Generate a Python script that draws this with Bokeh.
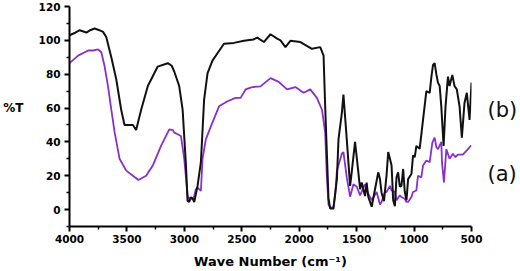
from bokeh.plotting import figure
from bokeh.models import Range1d, FixedTicker, LinearAxis
from bokeh.embed import file_html
from bokeh.resources import INLINE

# ---- data ----
b_wave = [4000, 3950, 3911, 3853, 3820, 3781, 3740, 3708, 3680, 3636, 3593, 3550, 3521, 3478, 3448, 3420,
          3376, 3318, 3232, 3145, 3110, 3088, 3045, 3015, 2986, 2972, 2958, 2943, 2928, 2914, 2885, 2856,
          2828, 2798, 2755, 2712, 2655, 2568, 2481, 2400, 2365, 2308, 2250, 2192, 2163, 2120, 2077, 1990,
          1889, 1817, 1788, 1774, 1745, 1730, 1702, 1672, 1658, 1629, 1615, 1586, 1557, 1543, 1514, 1485,
          1470, 1456, 1427, 1413, 1399, 1369, 1340, 1312, 1297, 1283, 1262, 1240, 1225, 1210, 1196, 1182,
          1167, 1153, 1139, 1124, 1110, 1095, 1081, 1066, 1052, 1023, 1009, 994, 980, 951, 922, 893, 864,
          850, 835, 821, 806, 792, 777, 763, 743, 726, 705, 691, 667, 648, 628, 604, 584, 561, 541, 517, 500]
b_T = [103, 104.5, 106, 104.6, 106, 107, 106, 105, 102, 90, 77, 59, 50, 50, 50, 47,
       59, 73, 84.5, 86.5, 85, 81.6, 73, 59, 26, 5, 4.5, 7, 6.5, 4.5, 14, 28,
       65, 80.6, 88, 92.4, 98, 98.5, 99.7, 100.5, 101.6, 99, 103.6, 101, 100, 96, 99.7, 99,
       95, 96, 91, 61, 6.4, 0.6, 0.6, 18, 41.5, 57, 68, 41.5, 14, 22, 40, 22,
       12, 16, 8, 16, 7.6, 1.7, 12, 22, 18, 10, 5, 20, 34, 30, 26, 5.5,
       2, 19, 22, 13.5, 14, 24, 10.5, 5.5, 18, 21, 32, 31, 37.6, 36, 53, 70, 69,
       78, 85.5, 86.5, 80, 75, 73, 61, 37.6, 61, 78.6, 73, 79.6, 73, 71, 61, 42.5, 63, 69, 53, 75]

a_wave = [4000, 3925, 3838, 3795, 3751, 3723, 3694, 3665, 3636, 3607, 3564, 3506, 3448, 3400, 3333, 3275,
          3203, 3131, 3100, 3088, 3058, 3030, 3001, 2972, 2958, 2943, 2928, 2914, 2900, 2885, 2856, 2842,
          2813, 2770, 2698, 2625, 2553, 2510, 2467, 2409, 2337, 2250, 2178, 2106, 2033, 1962, 1904, 1846,
          1802, 1774, 1760, 1745, 1730, 1702, 1685, 1672, 1629, 1615, 1586, 1557, 1528, 1499, 1470, 1427,
          1399, 1369, 1326, 1297, 1283, 1254, 1240, 1210, 1196, 1167, 1153, 1124, 1110, 1081, 1066, 1052,
          1023, 1009, 980, 966, 937, 922, 893, 864, 841, 821, 806, 792, 777, 763, 757, 740, 719, 691, 662,
          640, 619, 576, 541, 502]
a_T = [86.5, 91, 94, 94, 94.6, 93, 84.5, 73, 59, 45.6, 30, 23, 20, 17.5, 20, 26,
       37.6, 47.4, 47, 45.5, 44.5, 43.5, 30, 8.4, 6, 7.5, 6, 8, 12, 13, 11, 30,
       41.5, 49, 61, 64, 66, 66, 71, 72.4, 72.8, 77.7, 75.5, 71, 72.4, 69, 71, 66,
       59, 45.6, 20, 3, 1, 1.5, 10, 23, 33, 34, 19, 7.6, 15, 13.5, 8.4, 15,
       9.4, 5.5, 10.4, 3, 4.5, 10.4, 10.4, 14, 11.3, 10.4, 5.5, 8.4, 7.4, 6.4, 4.5, 4.5,
       7.4, 10.4, 11.3, 20, 19, 26, 29, 28, 39.6, 42.5, 37, 35.7, 38, 40, 28, 16, 35.7, 30, 33,
       31, 32.5, 32.5, 35, 38]

x_ticks = [4000, 3500, 3000, 2500, 2000, 1500, 1000, 500]
x_minor = [3750, 3250, 2750, 2250, 1750, 1250, 750]
y_ticks = [0, 20, 40, 60, 80, 100, 120]
y_minor = [-10, 10, 30, 50, 70, 90, 110]

series_labels = ["(b)", "(a)"]
series_label_y = [59, 21]
y_title = "%T"
y_title_at = 60

# ---- figure ----
p = figure(width=520, height=271, output_backend="svg", toolbar_location=None,
           x_range=Range1d(4000, 500), y_range=Range1d(-10, 120),
           min_border_left=68, min_border_right=48, min_border_top=6, min_border_bottom=43)
p.outline_line_color = None
p.grid.visible = False
p.background_fill_color = "white"
p.border_fill_color = "white"

p.line(a_wave, a_T, line_color="#8B2FC9", line_width=1.8)
p.line(b_wave, b_T, line_color="#111111", line_width=2)

p.xaxis.ticker = FixedTicker(ticks=x_ticks, minor_ticks=x_minor)
p.yaxis.ticker = FixedTicker(ticks=y_ticks, minor_ticks=y_minor)

for ax in (p.xaxis, p.yaxis):
    ax.axis_line_width = 2
    ax.axis_line_color = "black"
    ax.major_tick_line_width = 2
    ax.minor_tick_line_width = 1.5
    ax.major_tick_in = 0
    ax.major_tick_out = 5
    ax.minor_tick_in = 0
    ax.minor_tick_out = 3
    ax.major_label_text_font = "DejaVu Sans"
    ax.major_label_text_font_style = "bold"
    ax.major_label_text_font_size = "10.5px"
    ax.major_label_text_color = "black"

p.xaxis.major_label_standoff = 3
p.yaxis.major_label_standoff = 4
p.xaxis.axis_label = "Wave Number (cm\u207b\u00b9)"
p.xaxis.axis_label_text_font = "DejaVu Sans"
p.xaxis.axis_label_text_font_style = "bold"
p.xaxis.axis_label_text_font_size = "13px"
p.xaxis.axis_label_text_color = "black"
p.xaxis.axis_label_standoff = 8

# "%T" as a second left axis carrying a single label
t_axis = LinearAxis(ticker=FixedTicker(ticks=[y_title_at]),
                    major_label_overrides={y_title_at: y_title})
t_axis.axis_line_color = None
t_axis.major_tick_line_color = None
t_axis.minor_tick_line_color = None
t_axis.major_label_standoff = 6
t_axis.major_label_text_font = "DejaVu Sans"
t_axis.major_label_text_font_style = "bold"
t_axis.major_label_text_font_size = "12px"
t_axis.major_label_text_color = "black"
p.add_layout(t_axis, "left")

# series labels "(b)" / "(a)" on a right axis
s_axis = LinearAxis(ticker=FixedTicker(ticks=series_label_y),
                    major_label_overrides=dict(zip(series_label_y, series_labels)))
s_axis.axis_line_color = None
s_axis.major_tick_line_color = None
s_axis.minor_tick_line_color = None
s_axis.major_label_standoff = 10
s_axis.major_label_text_font = "DejaVu Sans"
s_axis.major_label_text_font_size = "21px"
s_axis.major_label_text_color = "#111111"
p.add_layout(s_axis, "right")

open("out.html", "w").write(file_html(p, INLINE))
